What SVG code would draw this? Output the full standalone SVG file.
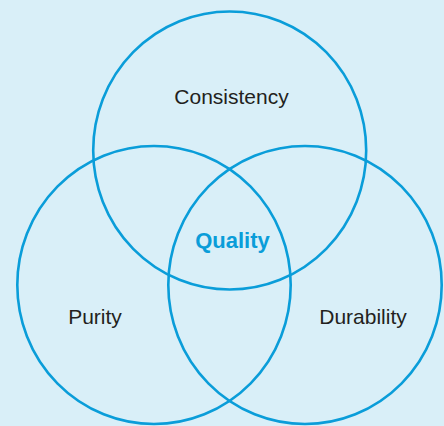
<svg xmlns="http://www.w3.org/2000/svg" width="444" height="426" viewBox="0 0 444 426">
  <style>
    .ring { fill: none; stroke: #0a9dd9; stroke-width: 2.6; }
    .label { font-family: "Liberation Sans", Arial, sans-serif; font-size: 21px; fill: #231f20; text-anchor: middle; }
    .core { font-family: "Liberation Sans", Arial, sans-serif; font-size: 22px; font-weight: bold; fill: #0a9dd9; text-anchor: middle; }
  </style>
  <rect x="0" y="0" width="444" height="426" fill="#d9eff8"/>
  <g id="consistency">
    <ellipse class="ring" cx="229.7" cy="150.5" rx="136.5" ry="139"/>
    <text class="label" x="231.5" y="104">Consistency</text>
  </g>
  <g id="purity">
    <ellipse class="ring" cx="154" cy="285" rx="136.7" ry="139"/>
    <text class="label" x="95" y="324">Purity</text>
  </g>
  <g id="durability">
    <ellipse class="ring" cx="305" cy="285" rx="136.7" ry="139"/>
    <text class="label" x="363" y="324">Durability</text>
  </g>
  <g id="quality">
    <text class="core" x="232.5" y="248">Quality</text>
  </g>
</svg>
